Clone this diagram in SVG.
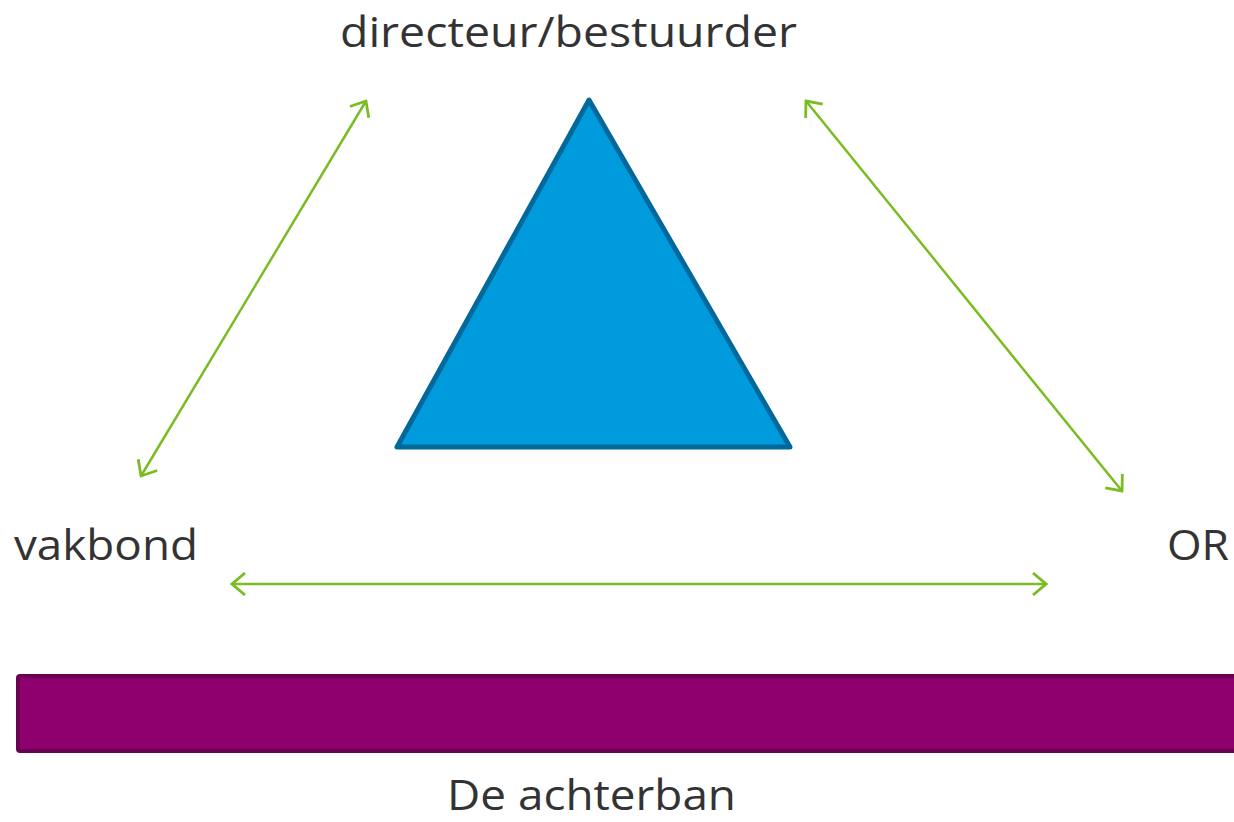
<svg xmlns="http://www.w3.org/2000/svg" width="1234" height="822" viewBox="0 0 1234 822">
<defs>
<style>
.lbl{font-family:"Open Sans","Liberation Sans",sans-serif;font-size:42px;fill:#333333}
.conn{stroke:#7ABC22;stroke-width:2.5;fill:none;marker-start:url(#ah);marker-end:url(#ah)}
</style>
<marker id="ah" viewBox="0 0 24 24" refX="22" refY="12" markerWidth="24" markerHeight="24" markerUnits="userSpaceOnUse" orient="auto-start-reverse">
<path d="M9,1 L22,12 L9,23" fill="none" stroke="#7ABC22" stroke-width="2.8"/>
</marker>
</defs>
<rect width="1234" height="822" fill="#ffffff"/>
<g id="connectors">
<line class="conn" x1="141" y1="476" x2="366" y2="101"/>
<line class="conn" x1="806" y1="101" x2="1122" y2="491"/>
<line class="conn" x1="232" y1="584" x2="1046" y2="584"/>
</g>
<g id="triangle">
<polygon points="589,100 397,447 790,447" fill="#009BDD" stroke="#00689A" stroke-width="5" stroke-linejoin="round"/>
</g>
<g id="achterban">
<rect x="18" y="676" width="1230" height="75" rx="2" fill="#8E006E" stroke="#6A0050" stroke-width="4"/>
</g>
<g id="node-directeur"><text class="lbl" x="340" y="47" textLength="457" lengthAdjust="spacingAndGlyphs">directeur/bestuurder</text></g>
<g id="node-vakbond"><text class="lbl" x="14" y="560" textLength="184" lengthAdjust="spacingAndGlyphs">vakbond</text></g>
<g id="node-or"><text class="lbl" x="1167" y="560" textLength="62" lengthAdjust="spacingAndGlyphs">OR</text></g>
<g id="label-achterban"><text class="lbl" x="447" y="810" textLength="289" lengthAdjust="spacingAndGlyphs">De achterban</text></g>
</svg>
